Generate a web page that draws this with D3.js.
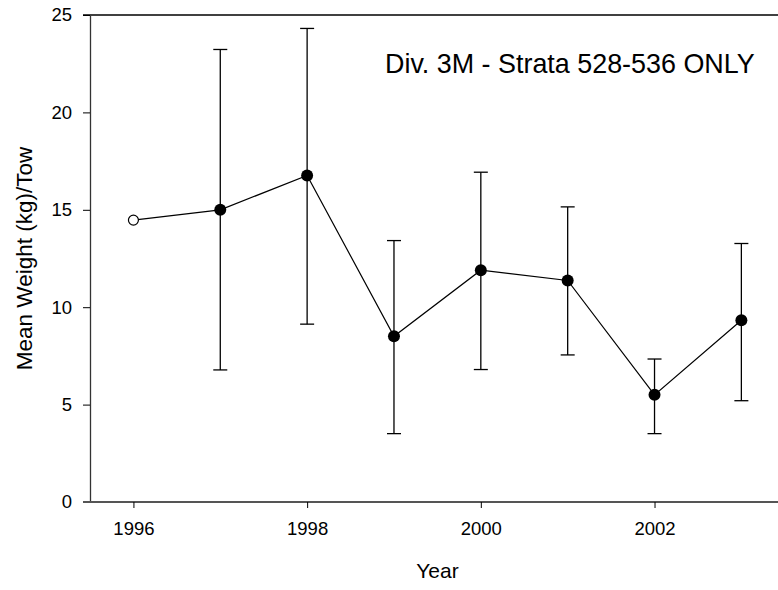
<!DOCTYPE html>
<html>
<head>
<meta charset="utf-8">
<script src="https://cdn.jsdelivr.net/npm/d3@7"></script>
<style>
  body { margin: 0; background: #fff; }
  svg { font-family: "Liberation Sans", Arial, sans-serif; }
</style>
</head>
<body>
<svg id="chart" width="778" height="590"></svg>
<script>
// data
const years = [1996, 1997, 1998, 1999, 2000, 2001, 2002, 2003];
const meanWeight = [14.47, 15.0, 16.76, 8.51, 11.9, 11.37, 5.5, 9.33];
const lowerBar = [null, 6.78, 9.13, 3.51, 6.80, 7.55, 3.51, 5.20];
const upperBar = [null, 23.23, 24.31, 13.42, 16.93, 15.15, 7.34, 13.27];
const yTicks = [0, 5, 10, 15, 20, 25];
const xTicks = [1996, 1998, 2000, 2002];

const svg = d3.select('#chart');
const margin = { left: 90, top: 15, bottom: 502 };

const xScale = d3.scaleLinear()
    .domain([1995.5, 2003.5])
    .range([90, 90 + 8 * 86.85]);
const yScale = d3.scaleLinear()
    .domain([0, 25])
    .range([502, 15]);

const data = years.map((y, i) => ({
    year: y, mean: meanWeight[i], lo: lowerBar[i], hi: upperBar[i]
}));

// top frame line
svg.append('line')
    .attr('x1', 83).attr('x2', 778)
    .attr('y1', yScale(25)).attr('y2', yScale(25))
    .attr('stroke', '#000').attr('stroke-width', 1.3);

// y axis
const yAxis = svg.append('g')
    .attr('transform', `translate(${margin.left},0)`)
    .call(d3.axisLeft(yScale).tickValues(yTicks).tickSize(7).tickPadding(11).tickSizeOuter(0));
yAxis.select('.domain').attr('stroke', '#333').attr('stroke-width', 1.3);
yAxis.selectAll('.tick line').attr('stroke', '#000');
yAxis.selectAll('.tick text').attr('font-size', 18.5).attr('fill', '#000');

// x axis
const xAxis = svg.append('g')
    .attr('transform', `translate(0,${margin.bottom})`)
    .call(d3.axisBottom(xScale).tickValues(xTicks).tickFormat(d3.format('d')).tickSize(6).tickPadding(14).tickSizeOuter(0));
xAxis.select('.domain').attr('d', `M83,0H778`).attr('stroke', '#555').attr('stroke-width', 2);
xAxis.selectAll('.tick line').attr('stroke', '#000');
xAxis.selectAll('.tick text').attr('font-size', 18.5).attr('fill', '#000');

// error bars
const bars = svg.append('g').selectAll('g')
    .data(data.filter(d => d.lo !== null))
    .enter().append('g');
bars.append('line')
    .attr('x1', d => xScale(d.year)).attr('x2', d => xScale(d.year))
    .attr('y1', d => yScale(d.lo)).attr('y2', d => yScale(d.hi))
    .attr('stroke', '#000').attr('stroke-width', 1.3);
bars.append('line')
    .attr('x1', d => xScale(d.year) - 7).attr('x2', d => xScale(d.year) + 7)
    .attr('y1', d => yScale(d.lo)).attr('y2', d => yScale(d.lo))
    .attr('stroke', '#000').attr('stroke-width', 1.3);
bars.append('line')
    .attr('x1', d => xScale(d.year) - 7).attr('x2', d => xScale(d.year) + 7)
    .attr('y1', d => yScale(d.hi)).attr('y2', d => yScale(d.hi))
    .attr('stroke', '#000').attr('stroke-width', 1.3);

// line
const line = d3.line()
    .x(d => xScale(d.year))
    .y(d => yScale(d.mean));
svg.append('path')
    .datum(data)
    .attr('fill', 'none')
    .attr('stroke', '#000')
    .attr('stroke-width', 1.2)
    .attr('d', line);

// points (first one open)
svg.append('g').selectAll('circle')
    .data(data)
    .enter().append('circle')
    .attr('cx', d => xScale(d.year))
    .attr('cy', d => yScale(d.mean))
    .attr('r', (d, i) => i === 0 ? 5 : 6)
    .attr('fill', (d, i) => i === 0 ? '#fff' : '#000')
    .attr('stroke', '#000')
    .attr('stroke-width', (d, i) => i === 0 ? 1.2 : 0);

// labels
svg.append('text')
    .attr('x', 385).attr('y', 73)
    .attr('font-size', 26.9)
    .text('Div. 3M - Strata 528-536 ONLY');

svg.append('text')
    .attr('x', 437.5).attr('y', 578)
    .attr('text-anchor', 'middle')
    .attr('font-size', 21)
    .text('Year');

svg.append('text')
    .attr('transform', `translate(32,${(15 + 502) / 2}) rotate(-90)`)
    .attr('text-anchor', 'middle')
    .attr('font-size', 22.5)
    .text('Mean Weight (kg)/Tow');
</script>
</body>
</html>
